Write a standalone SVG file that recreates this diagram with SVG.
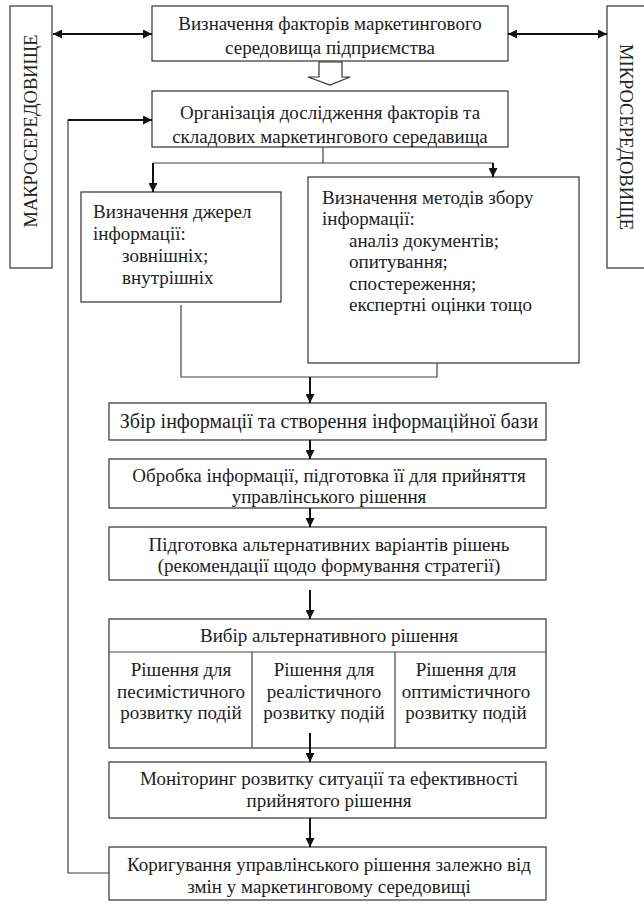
<svg xmlns="http://www.w3.org/2000/svg" width="644" height="904" viewBox="0 0 644 904">
  <style>
    .box { fill: #ffffff; stroke: #333333; stroke-width: 1.2; }
    .ln { fill: none; stroke: #444444; stroke-width: 1.2; }
    .arr { fill: none; stroke: #111111; stroke-width: 2; }
    .t { font-family: 'Liberation Serif', 'Times New Roman', Times, serif; font-size: 19px; fill: #222222; }
    .c { text-anchor: middle; }
  </style>
  <defs>
    <marker id="head" viewBox="0 0 10 10" refX="10" refY="5" markerWidth="5" markerHeight="4.5" orient="auto-start-reverse" markerUnits="strokeWidth">
      <path d="M0,0 L10,5 L0,10 Z" fill="#111111"/>
    </marker>
  </defs>

  <rect width="644" height="904" fill="#ffffff"/>

  <g class="t">
  <!-- side panels -->
  <g id="macro">
    <rect class="box" x="10" y="6" width="42" height="262"/>
    <text class="c" font-size="18.5" transform="translate(37,131) rotate(-90)">МАКРОСЕРЕДОВИЩЕ</text>
  </g>
  <g id="micro">
    <rect class="box" x="607" y="6" width="44" height="262"/>
    <text class="c" font-size="18.5" transform="translate(620,137) rotate(90)">МІКРОСЕРЕДОВИЩЕ</text>
  </g>

  <!-- top chain -->
  <g id="factors">
    <rect class="box" x="152" y="6" width="356" height="55"/>
    <text class="c" x="330" y="30">Визначення факторів маркетингового</text>
    <text class="c" x="330" y="54">середовища підприємства</text>
  </g>
  <g id="organisation">
    <rect class="box" x="152" y="91" width="356" height="56"/>
    <text class="c" x="330" y="119">Організація дослідження факторів та</text>
    <text class="c" x="330" y="143">складових маркетингового середавища</text>
  </g>

  <g id="sources">
    <rect class="box" x="81" y="192" width="200" height="110"/>
    <text x="93" y="218">Визначення джерел</text>
    <text x="93" y="240">інформації:</text>
    <text x="122" y="262">зовнішніх;</text>
    <text x="122" y="284">внутрішніх</text>
  </g>
  <g id="methods">
    <rect class="box" x="308" y="177" width="271" height="186"/>
    <text x="322" y="204">Визначення методів збору</text>
    <text x="322" y="225">інформації:</text>
    <text x="349" y="247">аналіз документів;</text>
    <text x="349" y="268">опитування;</text>
    <text x="349" y="290">спостереження;</text>
    <text x="349" y="311">експертні оцінки тощо</text>
  </g>

  <!-- main sequence -->
  <g id="collect">
    <rect class="box" x="109" y="403" width="437" height="37"/>
    <text class="c" x="329" y="428" font-size="20">Збір інформації та створення інформаційної бази</text>
  </g>
  <g id="process">
    <rect class="box" x="109" y="459" width="437" height="49"/>
    <text class="c" x="329" y="482">Обробка інформації, підготовка її для прийняття</text>
    <text class="c" x="329" y="503">управлінського рішення</text>
  </g>
  <g id="alternatives">
    <rect class="box" x="109" y="527" width="437" height="53"/>
    <text class="c" x="329" y="551">Підготовка альтернативних варіантів рішень</text>
    <text class="c" x="329" y="572">(рекомендації щодо формування стратегії)</text>
  </g>
  <g id="choice">
    <rect class="box" x="109" y="619" width="437" height="129"/>
    <line class="ln" x1="109" y1="652" x2="546" y2="652"/>
    <line class="ln" x1="252" y1="652" x2="252" y2="748"/>
    <line class="ln" x1="395" y1="652" x2="395" y2="748"/>
    <text class="c" x="329" y="642">Вибір альтернативного рішення</text>
    <text class="c" x="181" y="676">Рішення для</text>
    <text class="c" x="181" y="698">песимістичного</text>
    <text class="c" x="181" y="719">розвитку подій</text>
    <text class="c" x="324" y="676">Рішення для</text>
    <text class="c" x="324" y="698">реалістичного</text>
    <text class="c" x="324" y="719">розвитку подій</text>
    <text class="c" x="466" y="676">Рішення для</text>
    <text class="c" x="466" y="698">оптимістичного</text>
    <text class="c" x="466" y="719">розвитку подій</text>
  </g>
  <g id="monitoring">
    <rect class="box" x="109" y="762" width="437" height="56"/>
    <text class="c" x="329" y="785">Моніторинг розвитку ситуації та ефективності</text>
    <text class="c" x="329" y="807">прийнятого рішення</text>
  </g>
  <g id="correction">
    <rect class="box" x="109" y="847" width="437" height="53"/>
    <text class="c" x="329" y="871">Коригування управлінського рішення залежно від</text>
    <text class="c" x="329" y="893">змін у маркетинговому середовищі</text>
  </g>
  </g>

  <g id="connectors">
    <!-- links to the environment panels -->
    <line class="arr" x1="53" y1="34" x2="152" y2="34" marker-start="url(#head)" marker-end="url(#head)"/>
    <line class="arr" x1="508" y1="34" x2="607" y2="34" marker-start="url(#head)" marker-end="url(#head)"/>

    <!-- hollow block arrow -->
    <path d="M319,62 L342,62 L342,77 L350,77 L330,85 L308,77 L319,77 Z" fill="#ffffff" stroke="#333333" stroke-width="1.2"/>

    <!-- split to the two analysis boxes -->
    <polyline class="ln" points="323,147 323,163"/>
    <polyline class="ln" points="153,163 493,163"/>
    <line class="arr" x1="153" y1="163" x2="153" y2="192" marker-end="url(#head)"/>
    <line class="arr" x1="493" y1="163" x2="493" y2="177" marker-end="url(#head)"/>

    <!-- merge into the collection step -->
    <polyline class="ln" points="181,305 181,377 437,377 437,363"/>
    <line class="arr" x1="310" y1="377" x2="310" y2="403" marker-end="url(#head)"/>

    <line class="arr" x1="310" y1="440" x2="310" y2="459" marker-end="url(#head)"/>
    <line class="arr" x1="310" y1="508" x2="310" y2="527" marker-end="url(#head)"/>
    <line class="arr" x1="310" y1="590" x2="310" y2="619" marker-end="url(#head)"/>
    <line class="arr" x1="310" y1="733" x2="310" y2="762" marker-end="url(#head)"/>
    <line class="arr" x1="310" y1="818" x2="310" y2="847" marker-end="url(#head)"/>

    <!-- feedback loop -->
    <polyline class="ln" points="109,873 68,873 68,120 140,120"/>
    <line class="arr" x1="68" y1="120" x2="152" y2="120" marker-end="url(#head)"/>
  </g>
</svg>
